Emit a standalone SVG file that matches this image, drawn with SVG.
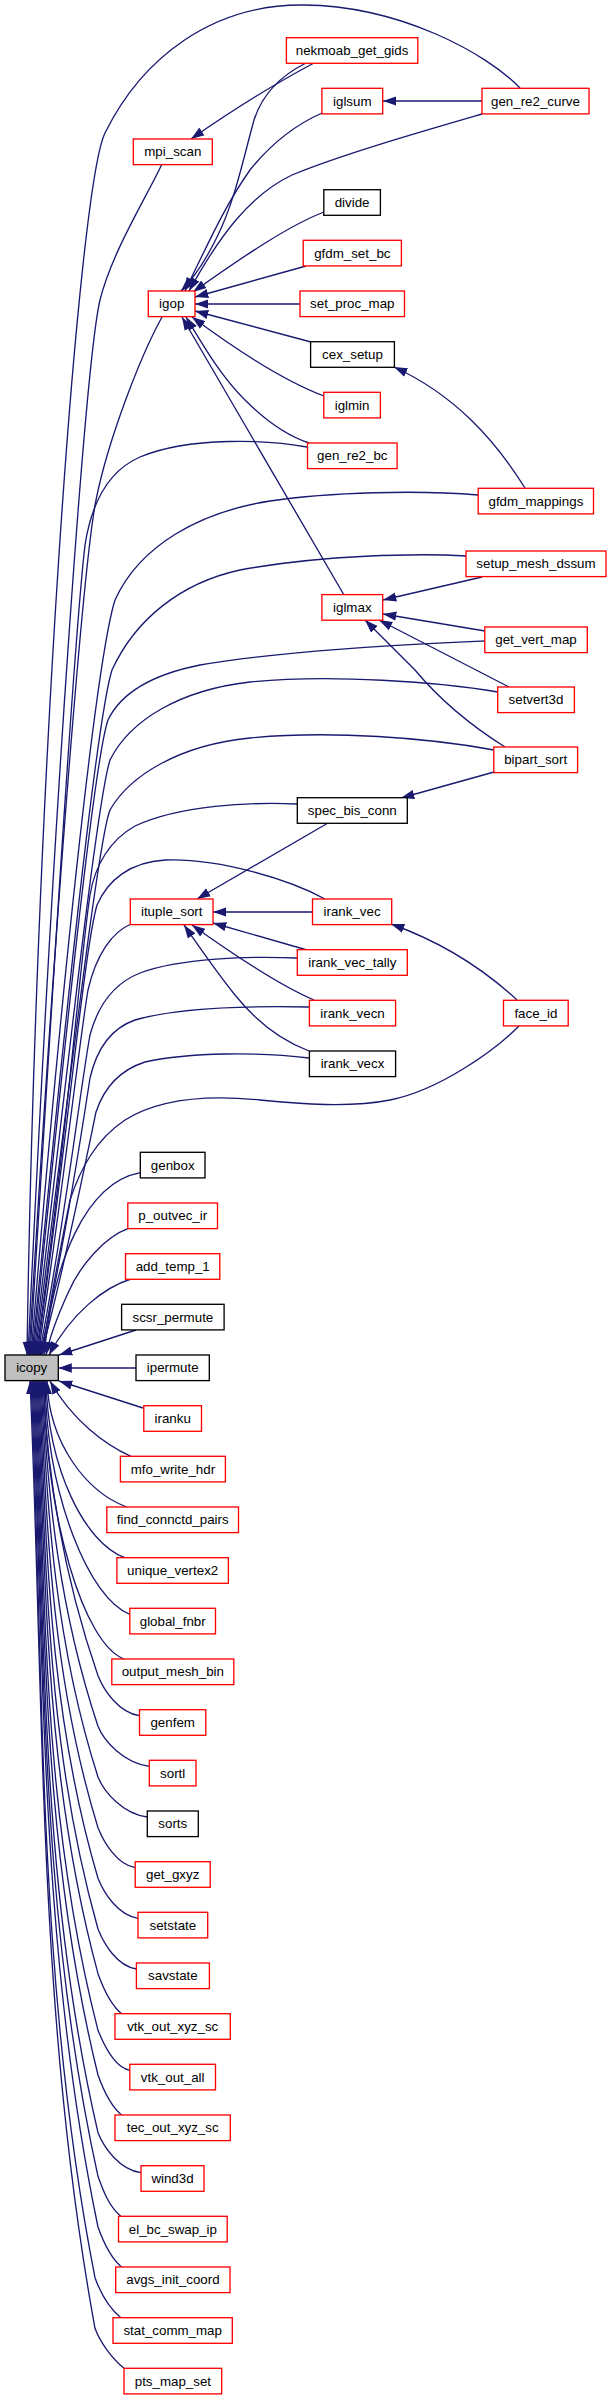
<svg xmlns="http://www.w3.org/2000/svg" width="608" height="2400" viewBox="0 0 608 2400">
<style>
.n rect{fill:#ffffff;stroke-width:1.33}
.r rect{stroke:#ff0000}
.k rect{stroke:#000000}
.g rect{fill:#bfbfbf;stroke:#000000}
.n text{font-family:"Liberation Sans",Arial,Helvetica,sans-serif;font-size:13.33px;fill:#000000;text-anchor:middle}
#edges path{fill:none;stroke:#191970;stroke-width:1.33;marker-end:url(#ah)}
</style>
<defs>
<marker id="ah" viewBox="0 0 13.3 10" refX="13.3" refY="5" markerWidth="13.3" markerHeight="10" markerUnits="userSpaceOnUse" orient="auto">
<path d="M0,0.35 L13.3,5 L0,9.65 Z" fill="#191970"/>
</marker>
</defs>
<rect width="608" height="2400" fill="#ffffff"/>
<g id="edges">
<!-- long edges into icopy (top) -->
<path d="M520,88 C486,53 400,6 304,5 C212,4 142,58 105,133 C78,188 35,800 27,1355"/>
<path d="M162,164 C146,198 112,252 100,300 C86,360 54,800 28,1355"/>
<path d="M162,317 C140,357 108,440 96,500 C84,560 56,900 29,1355"/>
<path d="M307,447 C270,440 190,436 140,457 C110,470 92,500 85,545 C74,640 52,1000 30,1355"/>
<path d="M478,495 C420,490 330,492 270,501 C200,512 140,545 115,600 C96,660 60,1000 31,1355"/>
<path d="M466,556 C420,553 320,555 240,570 C180,583 135,620 112,670 C96,720 62,1050 32,1355"/>
<path d="M485,641 C400,645 290,650 200,665 C150,675 120,695 108,720 C94,760 64,1050 33,1355"/>
<path d="M498,692 C440,682 330,674 250,682 C180,690 130,720 110,760 C97,800 66,1080 34,1355"/>
<path d="M494,750 C430,738 330,730 250,738 C180,745 130,775 110,810 C98,840 68,1100 35,1355"/>
<path d="M297,804 C250,802 180,805 135,826 C110,840 95,865 90,895 C80,960 66,1150 36,1355"/>
<path d="M325,899 C290,880 220,858 165,860 C130,862 108,880 97,905 C84,950 66,1150 37,1355"/>
<path d="M131,924 C112,932 96,955 88,990 C78,1050 62,1200 38,1355"/>
<path d="M297,958 C250,956 180,958 140,973 C115,983 98,1005 90,1035 C80,1090 64,1230 39,1355"/>
<path d="M309,1007 C260,1006 180,1007 135,1020 C112,1028 97,1048 90,1078 C82,1130 64,1250 40,1355"/>
<path d="M309,1058 C260,1052 190,1052 145,1062 C120,1070 104,1088 96,1112 C86,1160 64,1270 41,1355"/>
<path d="M519,1026 C495,1050 440,1090 390,1100 C350,1108 300,1104 260,1100 C210,1095 160,1098 125,1120 C95,1140 80,1170 70,1200 C62,1240 50,1300 42,1355"/>
<path d="M140.3,1172.7 C85,1183 53,1264 44,1355"/>
<path d="M127.8,1228.7 C105,1237 80,1265 68,1293 C58,1315 50,1335 46,1355"/>
<path d="M131,1279 C105,1287 72,1312 49,1355"/>
<path d="M136,1330 L59,1355"/>
<path d="M136,1368 L58.5,1368"/>
<path d="M143,1408 L59,1381"/>
<!-- edges into icopy (bottom) -->
<path d="M131,1456.3 C105,1445 72,1420 50,1381"/>
<path d="M126.7,1507 C86.7,1492 49,1444 47,1381"/>
<path d="M124.7,1557.7 C84.7,1542.7 48,1469.4 46,1381"/>
<path d="M129.8,1614.3 C89.8,1599.3 47,1497.7 45,1381"/>
<path d="M124,1659 C84,1644 46,1520 44,1381"/>
<path d="M139.5,1715.7 C119,1712.7 104,1690.7 98,1675.7 C64,1577.5 47.4,1479.2 43,1381"/>
<path d="M149.3,1766.3 C124,1763.3 104,1741.3 98,1726.3 C59.6,1611.2 47.2,1496.1 42,1381"/>
<path d="M147.3,1817 C123,1814 104,1792 98,1777 C55.6,1645 46.9,1513 41,1381"/>
<path d="M135.2,1867.7 C117,1864.7 104,1842.7 98,1827.7 C52.1,1678.8 46.7,1529.9 40,1381"/>
<path d="M138,1918.3 C118,1915.3 104,1893.3 98,1878.3 C48.9,1712.5 46.5,1546.8 39,1381"/>
<path d="M136.4,1969 C117,1966 104,1944 98,1929 C46.3,1746.3 46.2,1563.7 38,1381"/>
<path d="M121.6,2013.7 C109.6,2003.7 103,1987.7 98,1973.7 C44.3,1776.1 45.9,1578.6 37,1381"/>
<path d="M129.8,2070.3 C114,2067.3 104,2045.3 98,2030.3 C42.2,1813.9 45.7,1597.4 36,1381"/>
<path d="M121.6,2115 C109.6,2105 103,2089 98,2075 C41,1843.7 45.4,1612.3 35,1381"/>
<path d="M141,2172.7 C119.5,2169.7 104,2147.7 98,2132.7 C39.9,1882.1 45.3,1631.6 34,1381"/>
<path d="M120.8,2216.3 C108.8,2206.3 103,2190.3 98,2176.3 C39.4,1911.2 44.9,1646.1 33,1381"/>
<path d="M121.6,2267 C109.6,2257 103,2241 98,2227 C39.2,1945 44.7,1663 32,1381"/>
<path d="M120.8,2317.7 C108.8,2307.7 100,2291.7 95,2277.7 C36.4,1978.8 44.5,1679.9 31,1381"/>
<path d="M124,2368.3 C112,2358.3 100,2342.3 95,2328.3 C37.2,2012.5 44.2,1696.8 30,1381"/>
<!-- other edges -->
<path d="M314,63 C278,82 230,112 191,139"/>
<path d="M306,63 C280,76 262,95 254,120 C243,160 235,200 218,235 C205,262 192,280 181,291"/>
<path d="M322,113 C295,125 270,145 250,170 C225,205 205,250 185,291"/>
<path d="M482,101 L383,101"/>
<path d="M482,114 C420,132 340,155 292,175 C250,195 220,235 189,291"/>
<path d="M324,212 C290,225 245,255 193,292"/>
<path d="M306,266 L195,297"/>
<path d="M300,304 L195,304"/>
<path d="M311,342 L195,311"/>
<path d="M324,396 C295,385 250,360 192,317"/>
<path d="M309,443 C285,435 265,420 245,400 C220,375 203,345 186,317"/>
<path d="M344,595 L182,317"/>
<path d="M525,488 C495,440 455,395 394,367"/>
<path d="M482,577 L383,600"/>
<path d="M485,631 L383,614"/>
<path d="M509,687 L379,620"/>
<path d="M505,747 C470,725 440,700 415,670 C395,650 380,635 365,620"/>
<path d="M494,772 L401,798"/>
<path d="M328,823 L197,899"/>
<path d="M312.5,912 L213,912"/>
<path d="M307,950 L213,923"/>
<path d="M314,1000 C290,990 255,970 192,925"/>
<path d="M309,1051 C280,1040 255,1020 235,995 C215,970 198,945 184,925"/>
<path d="M517,1000 C490,975 450,945 391,924"/>
</g>
<g id="icopy" class="n g"><rect x="5" y="1355" width="53.3" height="25.6"/><text x="31.7" y="1372.3">icopy</text></g>
<g id="mpi_scan" class="n r"><rect x="133.3" y="139" width="79" height="25.6"/><text x="172.8" y="156.3">mpi_scan</text></g>
<g id="igop" class="n r"><rect x="148.3" y="291" width="46.7" height="25.6"/><text x="171.7" y="308.3">igop</text></g>
<g id="ituple_sort" class="n r"><rect x="130.3" y="899" width="82.7" height="25.6"/><text x="171.7" y="916.3">ituple_sort</text></g>
<g id="genbox" class="n k"><rect x="140.3" y="1152.3" width="64.7" height="25.6"/><text x="172.7" y="1169.6">genbox</text></g>
<g id="p_outvec_ir" class="n r"><rect x="127.8" y="1203" width="89.7" height="25.6"/><text x="172.7" y="1220.3">p_outvec_ir</text></g>
<g id="add_temp_1" class="n r"><rect x="125.5" y="1253.7" width="94.3" height="25.6"/><text x="172.7" y="1271">add_temp_1</text></g>
<g id="scsr_permute" class="n k"><rect x="121.6" y="1304.3" width="102.5" height="25.6"/><text x="172.9" y="1321.6">scsr_permute</text></g>
<g id="ipermute" class="n k"><rect x="136" y="1355" width="73.3" height="25.6"/><text x="172.7" y="1372.3">ipermute</text></g>
<g id="iranku" class="n r"><rect x="143.8" y="1405.7" width="57.7" height="25.6"/><text x="172.7" y="1423">iranku</text></g>
<g id="mfo_write_hdr" class="n r"><rect x="120.4" y="1456.3" width="105" height="25.6"/><text x="172.9" y="1473.6">mfo_write_hdr</text></g>
<g id="find_connctd_pairs" class="n r"><rect x="106.8" y="1507" width="131.7" height="25.6"/><text x="172.7" y="1524.3">find_connctd_pairs</text></g>
<g id="unique_vertex2" class="n r"><rect x="116.9" y="1557.7" width="111.5" height="25.6"/><text x="172.7" y="1575">unique_vertex2</text></g>
<g id="global_fnbr" class="n r"><rect x="129.8" y="1608.3" width="85.7" height="25.6"/><text x="172.7" y="1625.6">global_fnbr</text></g>
<g id="output_mesh_bin" class="n r"><rect x="111.8" y="1659" width="122" height="25.6"/><text x="172.8" y="1676.3">output_mesh_bin</text></g>
<g id="genfem" class="n r"><rect x="139.5" y="1709.7" width="66.3" height="25.6"/><text x="172.7" y="1727">genfem</text></g>
<g id="sortl" class="n r"><rect x="149.3" y="1760.3" width="46.7" height="25.6"/><text x="172.7" y="1777.6">sortl</text></g>
<g id="sorts" class="n k"><rect x="147.3" y="1811" width="51" height="25.6"/><text x="172.8" y="1828.3">sorts</text></g>
<g id="get_gxyz" class="n r"><rect x="135.2" y="1861.7" width="75" height="25.6"/><text x="172.7" y="1879">get_gxyz</text></g>
<g id="setstate" class="n r"><rect x="138" y="1912.3" width="69.7" height="25.6"/><text x="172.9" y="1929.6">setstate</text></g>
<g id="savstate" class="n r"><rect x="136.4" y="1963" width="73" height="25.6"/><text x="172.9" y="1980.3">savstate</text></g>
<g id="vtk_out_xyz_sc" class="n r"><rect x="115" y="2013.7" width="115.3" height="25.6"/><text x="172.7" y="2031">vtk_out_xyz_sc</text></g>
<g id="vtk_out_all" class="n r"><rect x="129.8" y="2064.3" width="85.7" height="25.6"/><text x="172.7" y="2081.6">vtk_out_all</text></g>
<g id="tec_out_xyz_sc" class="n r"><rect x="115" y="2115" width="115.3" height="25.6"/><text x="172.7" y="2132.3">tec_out_xyz_sc</text></g>
<g id="wind3d" class="n r"><rect x="141" y="2165.7" width="63" height="25.6"/><text x="172.5" y="2183">wind3d</text></g>
<g id="el_bc_swap_ip" class="n r"><rect x="118.5" y="2216.3" width="108.7" height="25.6"/><text x="172.9" y="2233.6">el_bc_swap_ip</text></g>
<g id="avgs_init_coord" class="n r"><rect x="115.7" y="2267" width="114.3" height="25.6"/><text x="172.9" y="2284.3">avgs_init_coord</text></g>
<g id="stat_comm_map" class="n r"><rect x="113" y="2317.7" width="119.3" height="25.6"/><text x="172.7" y="2335">stat_comm_map</text></g>
<g id="pts_map_set" class="n r"><rect x="124" y="2368.3" width="97.7" height="25.6"/><text x="172.9" y="2385.6">pts_map_set</text></g>
<g id="nekmoab_get_gids" class="n r"><rect x="286.4" y="37.7" width="131.4" height="25.6"/><text x="352.1" y="55">nekmoab_get_gids</text></g>
<g id="iglsum" class="n r"><rect x="321.9" y="88.3" width="60.8" height="25.6"/><text x="352.3" y="105.6">iglsum</text></g>
<g id="divide" class="n k"><rect x="323.8" y="189.7" width="56.6" height="25.6"/><text x="352.1" y="207">divide</text></g>
<g id="gfdm_set_bc" class="n r"><rect x="303.2" y="240.3" width="98.2" height="25.6"/><text x="352.3" y="257.6">gfdm_set_bc</text></g>
<g id="set_proc_map" class="n r"><rect x="300" y="291" width="104.5" height="25.6"/><text x="352.3" y="308.3">set_proc_map</text></g>
<g id="cex_setup" class="n k"><rect x="310.6" y="341.7" width="83.8" height="25.6"/><text x="352.5" y="359">cex_setup</text></g>
<g id="iglmin" class="n r"><rect x="323.8" y="392.3" width="56.6" height="25.6"/><text x="352.1" y="409.6">iglmin</text></g>
<g id="gen_re2_bc" class="n r"><rect x="307.5" y="443" width="89.6" height="25.6"/><text x="352.3" y="460.3">gen_re2_bc</text></g>
<g id="iglmax" class="n r"><rect x="321.9" y="594.6" width="60.8" height="25.6"/><text x="352.3" y="611.9">iglmax</text></g>
<g id="spec_bis_conn" class="n k"><rect x="297.3" y="797.7" width="110" height="25.6"/><text x="352.3" y="815">spec_bis_conn</text></g>
<g id="irank_vec" class="n r"><rect x="312.5" y="899" width="79.2" height="25.6"/><text x="352.1" y="916.3">irank_vec</text></g>
<g id="irank_vec_tally" class="n r"><rect x="297.3" y="949.7" width="110" height="25.6"/><text x="352.3" y="967">irank_vec_tally</text></g>
<g id="irank_vecn" class="n r"><rect x="309.4" y="1000.3" width="86.2" height="25.6"/><text x="352.5" y="1017.6">irank_vecn</text></g>
<g id="irank_vecx" class="n k"><rect x="309.4" y="1051" width="86.2" height="25.6"/><text x="352.5" y="1068.3">irank_vecx</text></g>
<g id="gen_re2_curve" class="n r"><rect x="482" y="88.3" width="107" height="25.6"/><text x="535.5" y="105.6">gen_re2_curve</text></g>
<g id="gfdm_mappings" class="n r"><rect x="478.2" y="488.3" width="115.3" height="25.6"/><text x="535.9" y="505.6">gfdm_mappings</text></g>
<g id="setup_mesh_dssum" class="n r"><rect x="466" y="551" width="140" height="25.6"/><text x="536" y="568.3">setup_mesh_dssum</text></g>
<g id="get_vert_map" class="n r"><rect x="484.8" y="627" width="102.5" height="25.6"/><text x="536" y="644.3">get_vert_map</text></g>
<g id="setvert3d" class="n r"><rect x="497.7" y="687" width="76.7" height="25.6"/><text x="536" y="704.3">setvert3d</text></g>
<g id="bipart_sort" class="n r"><rect x="493.8" y="747" width="83.8" height="25.6"/><text x="535.7" y="764.3">bipart_sort</text></g>
<g id="face_id" class="n r"><rect x="503.5" y="1000.3" width="64.7" height="25.6"/><text x="535.9" y="1017.6">face_id</text></g>
</svg>
